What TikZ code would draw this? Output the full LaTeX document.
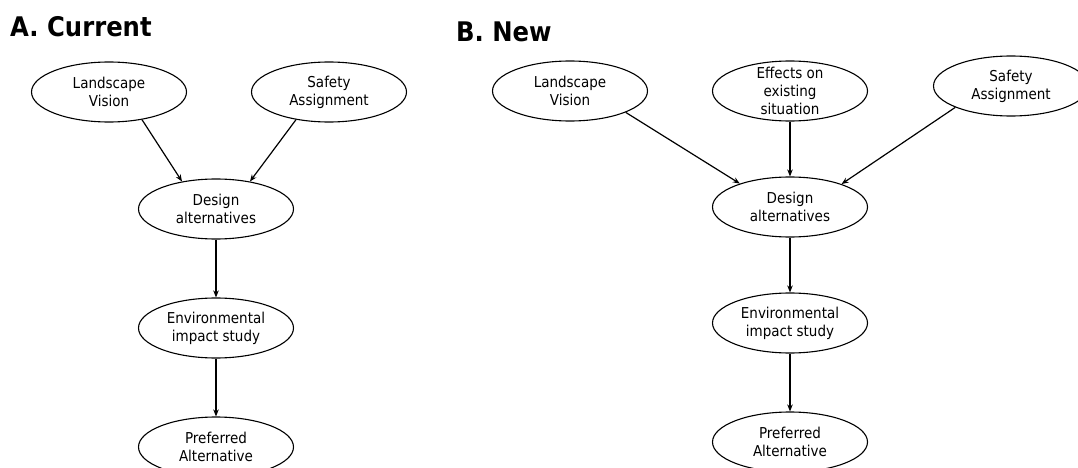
\documentclass[tikz,border=0pt]{standalone}
\usepackage{fontspec}
\setmainfont{DejaVu Sans Condensed}
\usepackage{tikz}
\usetikzlibrary{shapes.geometric, arrows.meta}

\tikzset{
    stage/.style={draw, ellipse, line width=1.1pt, minimum width=155pt, minimum height=60pt,
        inner sep=0pt, align=center, font=\fontsize{15}{18}\selectfont},
    flow/.style={line width=1.2pt, -{Stealth[length=7pt, width=5.5pt]}},
    panel/.style={font=\fontsize{27}{30}\selectfont\bfseries, anchor=base west, inner sep=0pt}
}

\begin{document}
\begin{tikzpicture}[x=1pt, y=-1pt]
            \useasboundingbox (0,0) rectangle (1078,468);

            % A. Current
            \node[panel] (titleA) at (10,37) {A. Current};
            \node[stage] (visionA) at (109,92) {Landscape\\Vision};
            \node[stage] (safetyA) at (329,92) {Safety\\Assignment};
            \node[stage] (designA) at (216,209) {Design\\alternatives};
            \node[stage] (studyA) at (216,328) {Environmental\\impact study};
            \node[stage] (prefA) at (216,447) {Preferred\\Alternative};
            \draw[flow] (visionA.-40) -- (designA.141);
            \draw[flow] (safetyA.-140) -- (designA.39);
            \draw[flow] (designA) -- (studyA);
            \draw[flow] (studyA) -- (prefA);

            % B. New
            \node[panel] (titleB) at (456,42) {B. New};
            \node[stage] (visionB) at (570,91) {Landscape\\Vision};
            \node[stage, inner ysep=-12pt] (effectsB) at (790,91) {Effects on\\existing\\situation};
            \node[stage] (safetyB) at (1011,86) {Safety\\Assignment};
            \node[stage] (designB) at (790,207) {Design\\alternatives};
            \node[stage] (studyB) at (790,323) {Environmental\\impact study};
            \node[stage] (prefB) at (790,442) {Preferred\\Alternative};
            \draw[flow] (visionB.-21) -- (designB.155);
            \draw[flow] (effectsB) -- (designB);
            \draw[flow] (safetyB.-159) -- (designB.24);
            \draw[flow] (designB) -- (studyB);
            \draw[flow] (studyB) -- (prefB);
        \end{tikzpicture}
\end{document}
